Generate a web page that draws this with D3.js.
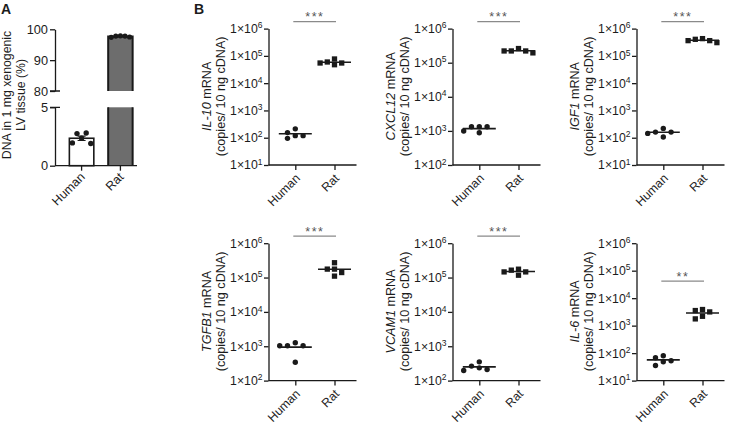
<!DOCTYPE html>
<html><head><meta charset="utf-8">
<script src="https://cdn.jsdelivr.net/npm/d3@7"></script>
<style>
body{margin:0;background:#fff}
svg{display:block}
text{font-family:"Liberation Sans",Arial,Helvetica,sans-serif;fill:#1c1c1c}
</style>
</head><body>
<svg id="c" width="729" height="424"></svg>
<script>
// ---------- data ----------
const groups = ["Human", "Rat"];

// Panel A: % DNA
const dnaHuman = [1.95, 2.75, 2.35, 2.80, 1.90];
const dnaRat = [97.4, 97.8, 97.9, 97.8, 97.5];
const dnaLowerTicks = [0, 5];
const dnaUpperTicks = [80, 90, 100];

// Panel B: mRNA copies / 10 ng cDNA
const genes = ["IL-10", "CXCL12", "IGF1", "TGFB1", "VCAM1", "IL-6"];
const humanValues = [
  [154, 95, 119, 211, 119],
  [880, 1320, 1320, 1320, 990],
  [161, 106, 161, 220, 144],
  [1262, 1033, 1033, 1033, 341],
  [264, 197, 352, 235, 210],
  [80, 52.5, 35.4, 67.6, 48.3]
];
const ratValues = [
  [76900, 47400, 59700, 54800, 54800],
  [260000, 194000, 221000, 221000, 221000],
  [362000, 429000, 362000, 405000, 306000],
  [270000, 176000, 176000, 140000, 110000],
  [164000, 117000, 175000, 146000, 146000],
  [3860, 1760, 3160, 3540, 2190]
];
const yMinExp = [1, 2, 1, 2, 2, 1];
const yMaxExp = [6, 6, 6, 6, 6, 6];
const sigLabels = ["***", "***", "***", "***", "***", "**"];
const sigLevel = [1.8e6, 1.6e6, 1.8e6, 1.6e6, 1.6e6, 4.2e4];

// ---------- drawing ----------
const svg = d3.select("#c");
const INK = "#1a1a1a";
const mean = a => d3.mean(a);
const sem = a => d3.deviation(a) / Math.sqrt(a.length);

function styleAxis(g) {
  g.select(".domain").attr("stroke", INK).attr("stroke-width", 1.3);
  g.selectAll(".tick line").attr("stroke", INK).attr("stroke-width", 1.3);
  g.selectAll(".tick text").attr("fill", "#1c1c1c");
}

// rotated category labels, placed in their own rotated groups
function rotatedLabels(gx, dx, dy, size) {
  gx.selectAll(".tick").each(function (d) {
    const tk = d3.select(this);
    tk.select("text").remove();
    tk.append("g").attr("transform", `translate(${dx},${dy}) rotate(-45)`)
      .append("text").attr("text-anchor", "end").attr("font-size", size)
      .attr("fill", "#1c1c1c").attr("font-family", '"Liberation Sans",Arial,sans-serif').text(d);
  });
}

// Panel letters
svg.append("text").attr("x", 1).attr("y", 13.5).attr("font-size", "14px").attr("font-weight", "bold").text("A");
svg.append("text").attr("x", 194).attr("y", 13.5).attr("font-size", "14px").attr("font-weight", "bold").text("B");

// ===== Panel A =====
(function () {
  const axX = 55, bottom = 165.7;
  const yLow = d3.scaleLinear().domain([0, 5]).range([bottom, 107.3]);
  const yUp = d3.scaleLinear().domain([80, 100]).range([91, 29.3]);
  const xA = d3.scaleBand().domain(groups).range([55, 147]).paddingInner(0.37).paddingOuter(0.37);
  const g = svg.append("g");

  const bw = xA.bandwidth();
  const mH = mean(dnaHuman), mR = mean(dnaRat);
  g.append("rect").attr("x", xA("Human")).attr("y", yLow(mH)).attr("width", bw)
    .attr("height", yLow(0) - yLow(mH)).attr("fill", "#fff").attr("stroke", INK).attr("stroke-width", 1.6);
  const rx = xA("Rat");
  g.append("rect").attr("x", rx).attr("y", yLow(5)).attr("width", bw).attr("height", yLow(0) - yLow(5)).attr("fill", "#6d6d6d");
  g.append("rect").attr("x", rx).attr("y", yUp(mR)).attr("width", bw).attr("height", yUp(80) - yUp(mR)).attr("fill", "#6d6d6d");
  g.append("path").attr("d", `M${rx},${yLow(0)}V${yLow(5)}M${rx + bw},${yLow(0)}V${yLow(5)}`)
    .attr("stroke", INK).attr("stroke-width", 2).attr("fill", "none");
  g.append("path").attr("d", `M${rx},${yUp(80)}V${yUp(mR)}H${rx + bw}V${yUp(80)}`)
    .attr("stroke", INK).attr("stroke-width", 2).attr("fill", "none");

  const cH = xA("Human") + bw / 2, cR = rx + bw / 2;
  const sH = sem(dnaHuman), sR = sem(dnaRat);
  g.append("path").attr("d", `M${cH},${yLow(mH - sH)}V${yLow(mH + sH)}M${cH - 4},${yLow(mH + sH)}H${cH + 4}M${cH - 4},${yLow(mH - sH)}H${cH + 4}`)
    .attr("stroke", INK).attr("stroke-width", 1.2).attr("fill", "none");
  g.append("path").attr("d", `M${cR},${yUp(mR - sR)}V${yUp(mR + sR)}M${cR - 4},${yUp(mR + sR)}H${cR + 4}`)
    .attr("stroke", INK).attr("stroke-width", 1.2).attr("fill", "none");

  g.selectAll(".ph").data(dnaHuman).join("circle").attr("cx", (d, i) => cH + (i - 2) * 4.6)
    .attr("cy", d => yLow(d)).attr("r", 2.7).attr("fill", INK);
  g.selectAll(".pr").data(dnaRat).join("circle").attr("cx", (d, i) => cR + (i - 2) * 4.6)
    .attr("cy", d => yUp(d)).attr("r", 2.6).attr("fill", INK);

  const gu = g.append("g").attr("transform", `translate(${axX},0)`)
    .call(d3.axisLeft(yUp).tickValues(dnaUpperTicks).tickFormat(d3.format("d")).tickSize(5).tickSizeOuter(0).tickPadding(2));
  const gl = g.append("g").attr("transform", `translate(${axX},0)`)
    .call(d3.axisLeft(yLow).tickValues(dnaLowerTicks).tickFormat(d3.format("d")).tickSize(5).tickSizeOuter(0).tickPadding(2));
  [gu, gl].forEach(a => { styleAxis(a); a.selectAll(".tick text").attr("font-size", "12.8px"); });
  g.append("path").attr("d", `M${axX - 5},${yUp(80)}H${axX + 5}M${axX - 5},${yLow(5)}H${axX + 5}`)
    .attr("stroke", INK).attr("stroke-width", 1.3);
  const gx = g.append("g").attr("transform", `translate(0,${bottom})`)
    .call(d3.axisBottom(xA).tickSize(5).tickSizeOuter(0));
  styleAxis(gx);
  gx.select(".domain").attr("d", `M${axX},0H137`);
  rotatedLabels(gx, 4, 12, "12.5px");

  const cy = 95;
  g.append("text").attr("transform", `translate(11,${cy}) rotate(-90)`).attr("text-anchor", "middle")
    .attr("font-size", "12.3px").text("DNA in 1 mg xenogenic");
  g.append("text").attr("transform", `translate(25,${cy}) rotate(-90)`).attr("text-anchor", "middle")
    .attr("font-size", "12.3px").text("LV tissue (%)");
})();

// ===== Panel B =====
function swarm(vals, yScale, step, d) {
  const order = vals.map((v, i) => i).sort((a, b) => vals[b] - vals[a]);
  const placed = [], off = new Array(vals.length);
  for (const i of order) {
    const py = yScale(vals[i]);
    for (let k = 0; k < 20; k++) {
      const col = k === 0 ? 0 : (k % 2 ? -Math.ceil(k / 2) : Math.ceil(k / 2));
      if (!placed.some(p => p.col === col && Math.abs(p.y - py) < d)) {
        placed.push({ col, y: py }); off[i] = col * step; break;
      }
    }
  }
  return off;
}

const colX = [268.5, 452.5, 636.5];
const rowTop = [28.6, 243.2];
const rowBottom = [165, 380.6];

genes.forEach((gene, i) => {
  const axX = colX[i % 3];
  const r = Math.floor(i / 3);
  const top = rowTop[r], bottom = rowBottom[r];
  const y = d3.scaleLog().domain([Math.pow(10, yMinExp[i]), Math.pow(10, yMaxExp[i])]).range([bottom, top]);
  const x = d3.scalePoint().domain(groups).range([axX + 26.8, axX + 66]);
  const g = svg.append("g");

  const tickVals = d3.range(yMinExp[i], yMaxExp[i] + 1).map(e => Math.pow(10, e));
  const gy = g.append("g").attr("transform", `translate(${axX},0)`)
    .call(d3.axisLeft(y).tickValues(tickVals).tickSize(4.5).tickSizeOuter(0).tickPadding(1.5));
  styleAxis(gy);
  gy.selectAll(".tick text").attr("font-size", "12.3px").each(function (d) {
    const t = d3.select(this);
    const e = Math.round(Math.log10(d));
    t.text(null);
    t.append("tspan").text("1×10");
    t.append("tspan").attr("font-size", "8.5px").attr("dy", "-4.8").text(e);
  });

  const gx = g.append("g").attr("transform", `translate(0,${bottom})`)
    .call(d3.axisBottom(x).tickSize(5).tickSizeOuter(0));
  styleAxis(gx);
  gx.select(".domain").attr("d", `M${axX},0H${axX + 88}`);
  rotatedLabels(gx, 5, 14, "12.3px");

  const hx = x("Human"), rx = x("Rat");
  const hOff = swarm(humanValues[i], y, 7.8, 5.2);
  const rOff = swarm(ratValues[i], y, 7.2, 5.2);
  g.selectAll(".h").data(humanValues[i]).join("circle")
    .attr("cx", (d, j) => hx + hOff[j]).attr("cy", d => y(d)).attr("r", 2.7).attr("fill", INK);
  const s = 5.3;
  g.selectAll(".r").data(ratValues[i]).join("rect")
    .attr("x", (d, j) => rx + rOff[j] - s / 2).attr("y", d => y(d) - s / 2)
    .attr("width", s).attr("height", s).attr("fill", INK);

  [[hx, mean(humanValues[i])], [rx, mean(ratValues[i])]].forEach(([cx, m]) => {
    g.append("line").attr("x1", cx - 16.5).attr("x2", cx + 16.5).attr("y1", y(m)).attr("y2", y(m))
      .attr("stroke", INK).attr("stroke-width", 1.6);
  });

  const sy = y(sigLevel[i]);
  g.append("line").attr("x1", hx - 2).attr("x2", rx + 1.5).attr("y1", sy).attr("y2", sy)
    .attr("stroke", "#8a8a8a").attr("stroke-width", 1.3);
  g.append("text").attr("x", (hx + rx) / 2).attr("y", sy - 0.5).attr("text-anchor", "middle")
    .attr("font-size", "12.5px").attr("letter-spacing", "1.5px").style("fill", "#555").text(sigLabels[i]);

  const cy = (top + bottom) / 2 - 0.5;
  const t1 = g.append("text").attr("transform", `translate(${axX - 58},${cy}) rotate(-90)`)
    .attr("text-anchor", "middle").attr("font-size", "12.6px");
  t1.append("tspan").attr("font-style", "italic").text(gene);
  t1.append("tspan").text(" mRNA");
  g.append("text").attr("transform", `translate(${axX - 43.5},${cy}) rotate(-90)`)
    .attr("text-anchor", "middle").attr("font-size", "12.6px").text("(copies/ 10 ng cDNA)");
});
</script>
</body></html>
